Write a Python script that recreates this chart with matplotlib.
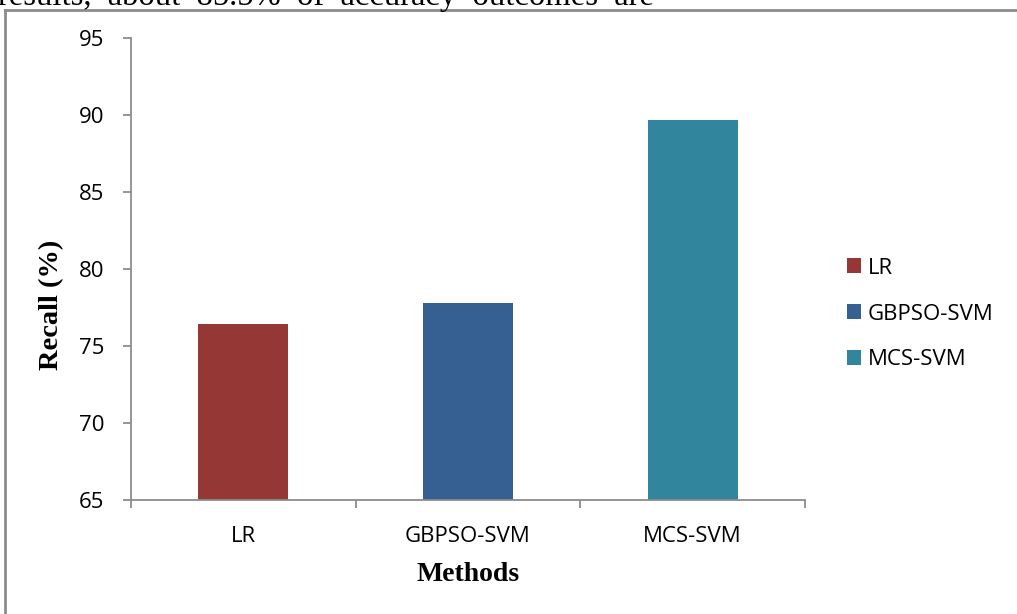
import matplotlib.pyplot as plt
from matplotlib.lines import Line2D
from matplotlib.patches import Patch

# Recall per method
methods = ['LR', 'GBPSO-SVM', 'MCS-SVM']
recall = [76.4, 77.8, 89.7]
colors = ['#953735', '#376092', '#31859C']
y_ticks = [65, 70, 75, 80, 85, 90, 95]

axis_gray = '#8c8c8c'
sans = ['Open Sans', 'DejaVu Sans']
serif = ['Liberation Serif', 'DejaVu Serif']
tick_size = 16

W, H = 1017, 614
fig = plt.figure(figsize=(W / 100, H / 100), dpi=100)
ax = fig.add_axes([131 / W, 1 - 500 / H, (805 - 131) / W, (500 - 38) / H])

x = list(range(len(methods)))
ax.bar(x, recall, width=0.4, color=colors)
ax.set_xlim(-0.5, len(methods) - 0.5)
ax.set_ylim(65, 95)
ax.set_yticks(y_ticks)
ax.set_yticklabels([str(t) for t in y_ticks], fontfamily=sans, fontsize=tick_size)
ax.set_xticks(x)
ax.set_xticklabels(methods, fontfamily=sans, fontsize=tick_size)
ax.tick_params(axis='x', length=0, pad=19)
ax.tick_params(axis='y', length=6, width=1.3, color=axis_gray, pad=13)

# category boundary ticks on the x axis
ax.set_xticks([-0.5, 0.5, 1.5, 2.5], minor=True)
ax.tick_params(axis='x', which='minor', length=6, width=1.3, color=axis_gray)

for side in ['top', 'right']:
    ax.spines[side].set_visible(False)
for side in ['left', 'bottom']:
    ax.spines[side].set_color(axis_gray)
    ax.spines[side].set_linewidth(1.3)

ax.set_ylabel('Recall (%)', fontfamily=serif, fontweight='bold', fontsize=20.5)
ax.yaxis.label.set_verticalalignment('center')
ax.yaxis.set_label_coords(-0.118, 0.422)
ax.set_xlabel('Methods', fontfamily=serif, fontweight='bold', fontsize=20)
ax.xaxis.label.set_verticalalignment('center')
ax.xaxis.set_label_coords(0.5, -0.162)

handles = [Patch(facecolor=c, edgecolor='none') for c in colors]
fig.legend(handles, methods, loc='center left', bbox_to_anchor=(827 / W, 1 - 314 / H),
           frameon=False, prop={'family': sans, 'size': tick_size},
           handlelength=0.65, handleheight=0.65, handletextpad=0.3, labelspacing=1.12)

# chart frame (left and top edges)
fig.add_artist(Line2D([4.5 / W, 4.5 / W], [0, 1 - 9.5 / H], transform=fig.transFigure,
                      color=axis_gray, lw=2))
fig.add_artist(Line2D([4.5 / W, 1], [1 - 9.5 / H, 1 - 9.5 / H], transform=fig.transFigure,
                      color=axis_gray, lw=2))

# running text line above the chart
fig.text(-2 / W, 1 - 4.5 / H, 'results,  about  85.5%  of  accuracy  outcomes  are',
         fontfamily=serif, fontsize=23.5, va='baseline', ha='left')

fig.savefig('out.png', dpi=100)
